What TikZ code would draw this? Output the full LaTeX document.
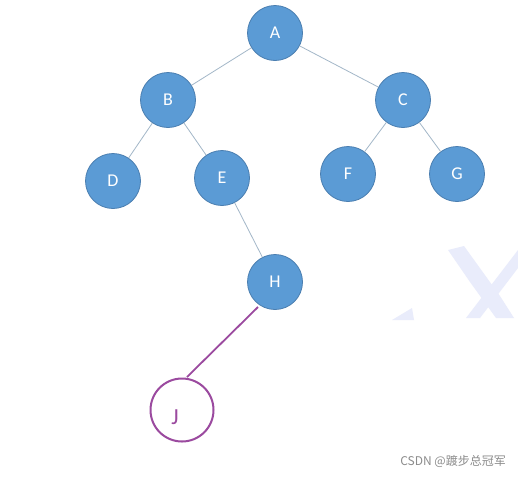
\documentclass[tikz,border=0pt]{standalone}
\usepackage{fontspec}
\setmainfont{Carlito}
\newfontfamily\cjk{Noto Sans CJK SC}
\begin{document}
\begin{tikzpicture}[x=1pt,y=-1pt,
  tn/.style={circle,fill=nodeblue,draw=nodeborder,line width=0.8pt,minimum size=55pt,inner sep=0pt,text=white,font=\fontsize{18}{20}\selectfont},
  edge/.style={draw=edgecol,line width=0.8pt},
  jn/.style={circle,draw=jpurple,line width=2pt,minimum size=63pt,inner sep=0pt},
  jtext/.style={text=jpurple,font=\fontsize{23}{25}\selectfont,inner sep=0pt,anchor=base}]
\definecolor{nodeblue}{HTML}{5B9BD5}
\definecolor{nodeborder}{HTML}{4A7EB0}
\definecolor{edgecol}{HTML}{A3B7C8}
\definecolor{jpurple}{HTML}{9B4A9F}
\definecolor{wmark}{HTML}{E9ECFB}
\useasboundingbox[fill=white] (0,0) rectangle (518,477);
% faint watermark X
\fill[wmark] (448,250) -- (464,246) -- (500,296) -- (514,318) -- (496,318) -- (470,282) -- cycle;
\fill[wmark] (518,250) -- (518,268) -- (480,318) -- (466,318) -- cycle;
\fill[wmark] (392,320) -- (412,308) -- (414,320) -- cycle;
\node[tn] (A) at (275,33) {A};
\node[tn] (B) at (168,100) {B};
\node[tn] (C) at (403,100) {C};
\node[tn] (D) at (113,181) {D};
\node[tn] (E) at (222,178) {E};
\node[tn] (F) at (348,174) {F};
\node[tn] (G) at (457,174) {G};
\node[tn] (H) at (275,282) {H};
\node[jn] (J) at (182,410) {};
\node[jtext] (Jl) at (175,424) {J};
\coordinate (hj) at (258,307);
\coordinate (jh) at (187,377);
\draw[edge] (A) -- (B);
\draw[edge] (A) -- (C);
\draw[edge] (B) -- (D);
\draw[edge] (B) -- (E);
\draw[edge] (C) -- (F);
\draw[edge] (C) -- (G);
\draw[edge] (E) -- (H);
\draw[jpurple,line width=1.8pt] (hj) -- (jh);
\node[text=black!45,font=\cjk\fontsize{12}{14}\selectfont,anchor=east,inner sep=0pt] (wm) at (506,461) {CSDN @踱步总冠军};
\end{tikzpicture}
\end{document}
